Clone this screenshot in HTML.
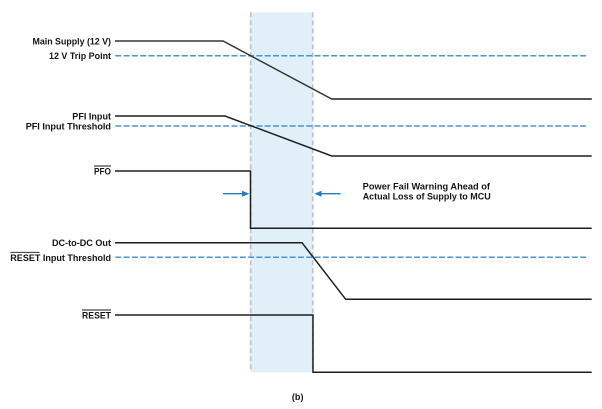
<!DOCTYPE html>
<html><head><meta charset="utf-8"><style>
html,body{margin:0;padding:0;background:#fff;}
svg{display:block;}
text{font-family:"Liberation Sans",Arial,sans-serif;font-weight:bold;font-size:9.1px;fill:#141414;}
</style></head><body>
<svg width="602" height="409" viewBox="0 0 602 409" xmlns="http://www.w3.org/2000/svg">
<!-- shaded window -->
<rect x="250.7" y="12.3" width="62" height="360" fill="#e1eff9"/>
<line x1="250.7" y1="12.3" x2="250.7" y2="372.3" stroke="#bcc1c8" stroke-width="1.6" stroke-dasharray="5,3"/>
<line x1="312.7" y1="12.3" x2="312.7" y2="372.3" stroke="#bcc1c8" stroke-width="1.6" stroke-dasharray="5,3"/>

<!-- dashed thresholds -->
<g stroke="#4a96d0" stroke-width="1.5" stroke-dasharray="6,2.3" fill="none">
<line x1="115.3" y1="55.7" x2="588" y2="55.7"/>
<line x1="115.3" y1="126" x2="588" y2="126"/>
<line x1="115.3" y1="257.3" x2="588" y2="257.3"/>
</g>

<!-- signals -->
<g fill="none" stroke="#1e1e1e" stroke-width="1.5" stroke-linejoin="miter">
<polyline points="115,41 223,41 331.7,99 591.7,99" stroke="#333"/>
<polyline points="115,116 225,116 331.7,156 591.7,156"/>
<polyline points="115,171 250.5,171 250.5,228.3 591.7,228.3"/>
<polyline points="115,242.7 302,242.7 345.7,299.3 591.7,299.3"/>
<polyline points="115,315 313,315 313,372.3 591.7,372.3"/>
</g>
<line x1="331.7" y1="99" x2="591.7" y2="99" stroke="#555" stroke-width="1.9"/>

<!-- arrows -->
<g stroke="#1f7cc2" stroke-width="1.3" fill="#1f7cc2">
<line x1="223" y1="193.7" x2="244" y2="193.7"/>
<polygon points="249.3,193.7 242,190.7 242,196.7" stroke="none"/>
<line x1="340.7" y1="193.7" x2="320" y2="193.7"/>
<polygon points="314.3,193.7 321.5,190.7 321.5,196.7" stroke="none"/>
</g>

<!-- labels -->
<g text-anchor="end">
<text x="111" y="44.5" textLength="78.5" lengthAdjust="spacingAndGlyphs">Main Supply (12 V)</text>
<text x="111" y="59.2" textLength="62" lengthAdjust="spacingAndGlyphs">12 V Trip Point</text>
<text x="111" y="119.5" textLength="38.7" lengthAdjust="spacingAndGlyphs">PFI Input</text>
<text x="111" y="129.5" textLength="85.3" lengthAdjust="spacingAndGlyphs">PFI Input Threshold</text>
<text x="111" y="174.5" textLength="17" lengthAdjust="spacingAndGlyphs">PFO</text>
<text x="111" y="246.2" textLength="59" lengthAdjust="spacingAndGlyphs">DC-to-DC Out</text>
<text x="111" y="260.8" textLength="100.7" lengthAdjust="spacingAndGlyphs">RESET Input Threshold</text>
<text x="111" y="318.5" textLength="29" lengthAdjust="spacingAndGlyphs">RESET</text>
</g>
<!-- overlines -->
<g stroke="#141414" stroke-width="0.9">
<line x1="94" y1="166" x2="111" y2="166"/>
<line x1="10.3" y1="252.3" x2="39.5" y2="252.3"/>
<line x1="82" y1="310" x2="111" y2="310"/>
</g>

<text x="362.7" y="189.5" textLength="127.3" lengthAdjust="spacingAndGlyphs">Power Fail Warning Ahead of</text>
<text x="362.7" y="199.7" textLength="128" lengthAdjust="spacingAndGlyphs">Actual Loss of Supply to MCU</text>

<text x="297.7" y="400.2" text-anchor="middle">(b)</text>
</svg>
</body></html>
